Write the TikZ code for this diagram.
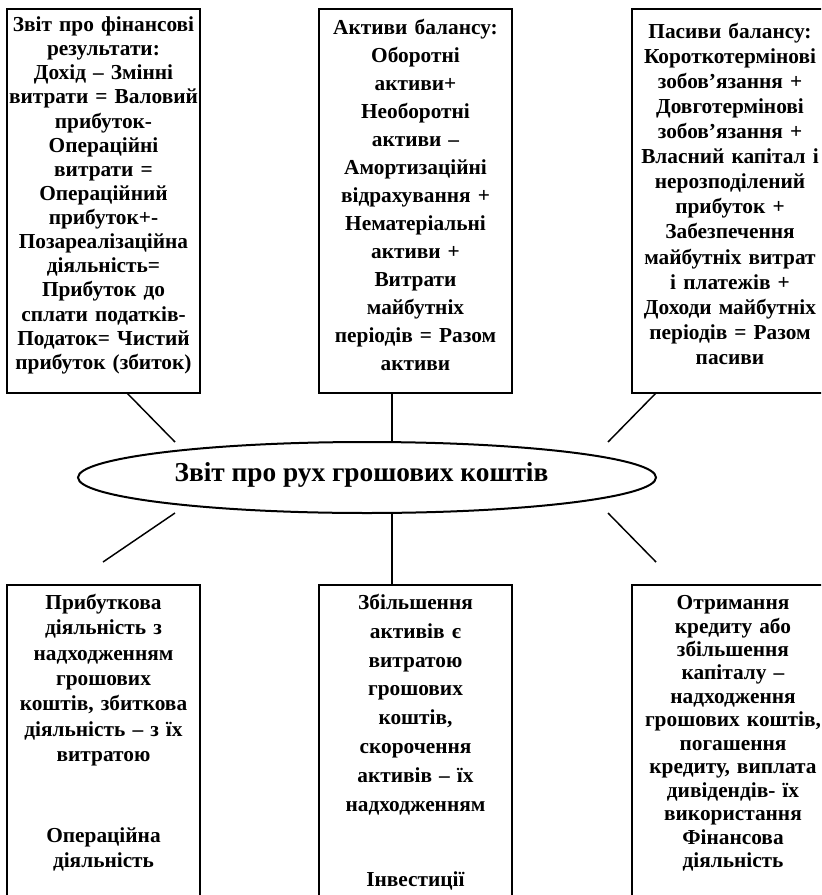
\documentclass[tikz,border=0pt]{standalone}
\usepackage{fontspec}
\setmainfont{Liberation Serif}
\usetikzlibrary{shapes.geometric,calc}
\begin{document}
\begin{tikzpicture}[x=0.75pt,y=-0.75pt,
  frame/.style={draw, line width=1.5pt, inner sep=0pt, outer sep=0pt, anchor=north west},
  txt/.style={anchor=north, align=center, text width=210pt, inner sep=0pt, outer sep=0pt,
    font=\bfseries\fontsize{16}{#1}\selectfont},
  conn/.style={line width=1.1pt}]
\clip (0,0) rectangle (821,895);
\fill[white] (0,0) rectangle (821,895);

% boxes
\node[frame, minimum width=144.75pt, minimum height=288pt] (tl) at (7,9) {};
\node[frame, minimum width=144.75pt, minimum height=288pt] (tm) at (319,9) {};
\node[frame, minimum width=148.5pt, minimum height=288pt] (tr) at (632,9) {};
\node[frame, minimum width=144.75pt, minimum height=240pt] (bl) at (7,585) {};
\node[frame, minimum width=144.75pt, minimum height=240pt] (bm) at (319,585) {};
\node[frame, minimum width=153pt, minimum height=240pt] (br) at (632,585) {};

% texts
\node[txt=18.1pt] (tlt) at (103.5,9) {\rule{0pt}{16.9pt}Звіт про фінансові\\
результати:\\
Дохід – Змінні\\
витрати = Валовий\\
прибуток-\\
Операційні\\
витрати =\\
Операційний\\
прибуток+-\\
Позареалізаційна\\
діяльність=\\
Прибуток до\\
сплати податків-\\
Податок= Чистий\\
прибуток (збиток)};

\node[txt=21pt] (tmt) at (415.5,9) {\rule{0pt}{19.1pt}Активи балансу:\\
Оборотні\\
активи+\\
Необоротні\\
активи –\\
Амортизаційні\\
відрахування +\\
Нематеріальні\\
активи +\\
Витрати\\
майбутніх\\
періодів = Разом\\
активи};

\node[txt=18.8pt] (trt) at (730,9) {\rule{0pt}{22.1pt}Пасиви балансу:\\
Короткотермінові\\
зобов’язання +\\
Довготермінові\\
зобов’язання +\\
Власний капітал і\\
нерозподілений\\
прибуток +\\
Забезпечення\\
майбутніх витрат\\
і платежів +\\
Доходи майбутніх\\
періодів = Разом\\
пасиви};

\node[txt=19pt] (blt) at (103.5,585) {\rule{0pt}{18.4pt}Прибуткова\\
діяльність з\\
надходженням\\
грошових\\
коштів, збиткова\\
діяльність – з їх\\
витратою\\[41.5pt]
Операційна\\
діяльність};

\node[txt=21.6pt] (bmt) at (415.5,585) {\rule{0pt}{18.4pt}Збільшення\\
активів є\\
витратою\\
грошових\\
коштів,\\
скорочення\\
активів – їх\\
надходженням\\[34.7pt]
Інвестиції};

\node[txt=17.6pt] (brt) at (733,585) {\rule{0pt}{18.4pt}Отримання\\
кредиту або\\
збільшення\\
капіталу –\\
надходження\\
грошових коштів,\\
погашення\\
кредиту, виплата\\
дивідендів- їх\\
використання\\
Фінансова\\
діяльність};

% central ellipse
\node[ellipse, draw, line width=1.5pt, inner sep=0pt, outer sep=0pt,
  minimum width=433.5pt, minimum height=53.25pt] (el) at (367,477.5) {};
\node[font=\bfseries\fontsize{20.5}{24}\selectfont, inner sep=0pt] (elt) at (361.5,475)
  {Звіт про рух грошових коштів};

% connector ends near the ellipse
\coordinate (e1) at (175,442);
\coordinate (e2) at (392,442);
\coordinate (e3) at (608,442);
\coordinate (e4) at (175,513);
\coordinate (e5) at (392,513);
\coordinate (e6) at (608,513);
\coordinate (b4) at (103,562);
\coordinate (b6) at (656,562);

\draw[conn] ($(tl.south west)+(120,0)$) -- (e1);
\draw[conn] ($(tm.south west)+(73,0)$) -- (e2);
\draw[conn] ($(tr.south west)+(24,0)$) -- (e3);
\draw[conn] (e4) -- (b4);
\draw[conn] (e5) -- ($(bm.north west)+(73,0)$);
\draw[conn] (e6) -- (b6);
\end{tikzpicture}
\end{document}
